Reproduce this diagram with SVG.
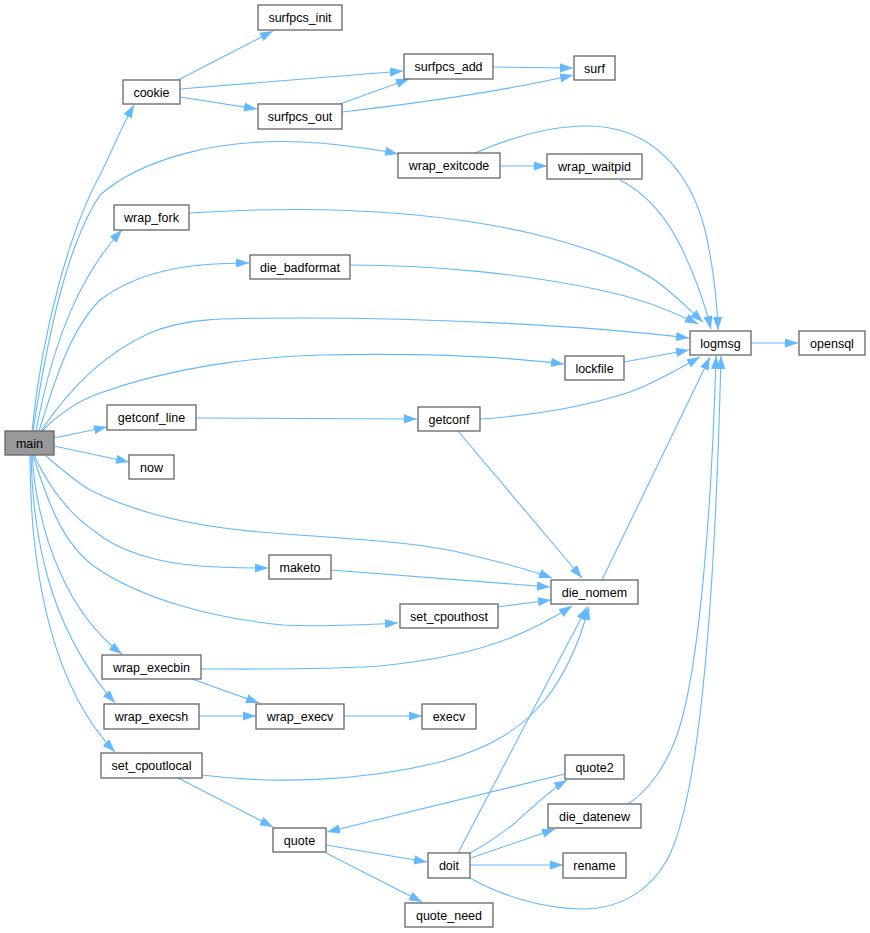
<svg xmlns="http://www.w3.org/2000/svg" width="870" height="933" viewBox="0 0 870 933">
<defs>
<marker id="ah" markerUnits="userSpaceOnUse" markerWidth="13" markerHeight="10" viewBox="0 0 13 10" refX="13" refY="5" orient="auto">
<path d="M0,0.4 L13,5 L0,9.6 z" fill="#63b8ff"/>
</marker>
<style>
.n rect{fill:#fff;stroke:#666;stroke-width:1.3}
.n text{font-family:"Liberation Sans",Arial,sans-serif;font-size:12.5px;fill:#000;text-anchor:middle}
#main rect{fill:#999}
#edges path{fill:none;stroke:#63b8ff;stroke-width:1.1;marker-end:url(#ah)}
</style>
</defs>
<rect width="870" height="933" fill="#fff"/>
<g id="edges">
<path d="M32,431 C42,330 70,230 100,175 C110,155 120,130 134,105"/>
<path d="M33,431 C50,320 70,240 100,195 C140,160 220,135 320,143 C350,146 375,149 398,154"/>
<path d="M36,431 C55,330 85,270 122,230"/>
<path d="M39,431 C55,380 70,330 100,300 C140,270 190,263 249,263"/>
<path d="M41,431 C65,395 100,355 150,333 C185,318 220,318 300,318 C430,318 580,325 689,338"/>
<path d="M42,431 C60,413 80,400 100,393 C170,368 250,357 320,355 C420,353 500,356 564,364"/>
<path d="M54,438 L107,427"/>
<path d="M54,446 L129,462"/>
<path d="M46,456 C60,468 75,481 90,490 C140,515 200,527 260,532 C330,538 420,541 470,555 C500,562 530,570 552,578"/>
<path d="M34,455 C50,490 70,515 97,533 C120,552 160,563 200,566 C225,568 245,568 268,568"/>
<path d="M33,455 C50,510 65,545 95,567 C140,598 210,618 283,625 C320,627 360,625 398,623"/>
<path d="M32,455 C38,540 70,615 122,654"/>
<path d="M31,455 C33,560 60,640 115,703"/>
<path d="M30,455 C30,580 55,690 115,752"/>
<path d="M178,80 L273,31"/>
<path d="M180,89 L403,71"/>
<path d="M180,97 L257,109"/>
<path d="M340,104 L409,79"/>
<path d="M342,112 C420,103 500,92 573,75"/>
<path d="M493,67 L573,68"/>
<path d="M500,166 L547,166"/>
<path d="M475,153 C510,138 550,125 590,126 C650,127 690,170 705,230 C713,265 717,300 718,330"/>
<path d="M620,180 C645,193 665,215 680,245 C695,275 705,305 711,329"/>
<path d="M189,213 C300,206 420,208 530,233 C600,250 645,270 665,288 C680,300 692,312 703,322"/>
<path d="M350,265 C440,265 530,275 600,290 C640,298 670,310 698,324"/>
<path d="M624,362 L689,350"/>
<path d="M751,343 L798,343"/>
<path d="M196,418 L417,419"/>
<path d="M480,419 C540,415 590,405 630,392 C655,383 680,368 700,357"/>
<path d="M458,431 L582,578"/>
<path d="M602,580 L710,357"/>
<path d="M628,804 C645,793 665,770 677,735 C700,670 712,500 716,356"/>
<path d="M470,878 C500,895 540,908 580,909 C620,910 650,890 667,860 C700,800 715,600 721,356"/>
<path d="M202,775 C270,784 360,782 440,762 C490,748 520,730 545,700 C565,675 580,640 589,607"/>
<path d="M458,853 L587,607"/>
<path d="M201,669 C260,669 320,670 380,666 C440,660 480,650 510,638 C535,628 555,617 572,606"/>
<path d="M192,679 L259,703"/>
<path d="M199,716 L256,716"/>
<path d="M344,716 L422,716"/>
<path d="M178,778 L273,827"/>
<path d="M565,774 L327,832"/>
<path d="M326,845 L427,862"/>
<path d="M326,853 L422,902"/>
<path d="M470,853 C485,845 500,835 515,823 C535,805 550,790 567,780"/>
<path d="M471,858 L555,829"/>
<path d="M470,865 L563,865"/>
<path d="M331,570 L550,587"/>
<path d="M497,607 L551,600"/>
</g>
<g id="main" class="n"><rect x="5" y="431" width="49" height="24"/><text x="29.5" y="447.5">main</text></g>
<g id="cookie" class="n"><rect x="123" y="80" width="57" height="24"/><text x="151.5" y="96.5">cookie</text></g>
<g id="surfpcs_init" class="n"><rect x="258" y="5" width="84" height="25"/><text x="300" y="22">surfpcs_init</text></g>
<g id="surfpcs_add" class="n"><rect x="404" y="54" width="89" height="25"/><text x="448.5" y="71">surfpcs_add</text></g>
<g id="surfpcs_out" class="n"><rect x="258" y="104" width="84" height="25"/><text x="300" y="121">surfpcs_out</text></g>
<g id="surf" class="n"><rect x="574" y="56" width="41" height="24"/><text x="594.5" y="72.5">surf</text></g>
<g id="wrap_exitcode" class="n"><rect x="398" y="153" width="102" height="25"/><text x="449" y="170">wrap_exitcode</text></g>
<g id="wrap_waitpid" class="n"><rect x="547" y="154" width="95" height="25"/><text x="594.5" y="171">wrap_waitpid</text></g>
<g id="wrap_fork" class="n"><rect x="114" y="205" width="75" height="25"/><text x="151.5" y="222">wrap_fork</text></g>
<g id="die_badformat" class="n"><rect x="250" y="255" width="100" height="24"/><text x="300" y="271.5">die_badformat</text></g>
<g id="logmsg" class="n"><rect x="690" y="331" width="61" height="24"/><text x="720.5" y="347.5">logmsg</text></g>
<g id="opensql" class="n"><rect x="799" y="331" width="66" height="24"/><text x="832" y="347.5">opensql</text></g>
<g id="lockfile" class="n"><rect x="565" y="356" width="59" height="24"/><text x="594.5" y="372.5">lockfile</text></g>
<g id="getconf_line" class="n"><rect x="107" y="405" width="89" height="25"/><text x="151.5" y="422">getconf_line</text></g>
<g id="getconf" class="n"><rect x="418" y="407" width="62" height="24"/><text x="449" y="423.5">getconf</text></g>
<g id="now" class="n"><rect x="129" y="455" width="45" height="24"/><text x="151.5" y="471.5">now</text></g>
<g id="maketo" class="n"><rect x="269" y="555" width="62" height="24"/><text x="300" y="571.5">maketo</text></g>
<g id="die_nomem" class="n"><rect x="551" y="580" width="87" height="24"/><text x="594.5" y="596.5">die_nomem</text></g>
<g id="set_cpouthost" class="n"><rect x="400" y="604" width="98" height="24"/><text x="449" y="620.5">set_cpouthost</text></g>
<g id="wrap_execbin" class="n"><rect x="102" y="655" width="99" height="24"/><text x="151.5" y="671.5">wrap_execbin</text></g>
<g id="wrap_execsh" class="n"><rect x="104" y="704" width="95" height="25"/><text x="151.5" y="721">wrap_execsh</text></g>
<g id="wrap_execv" class="n"><rect x="256" y="704" width="88" height="25"/><text x="300" y="721">wrap_execv</text></g>
<g id="execv" class="n"><rect x="422" y="704" width="54" height="25"/><text x="449" y="721">execv</text></g>
<g id="set_cpoutlocal" class="n"><rect x="101" y="753" width="101" height="25"/><text x="151.5" y="770">set_cpoutlocal</text></g>
<g id="quote2" class="n"><rect x="565" y="755" width="59" height="24"/><text x="594.5" y="771.5">quote2</text></g>
<g id="die_datenew" class="n"><rect x="548" y="804" width="93" height="24"/><text x="594.5" y="820.5">die_datenew</text></g>
<g id="quote" class="n"><rect x="273" y="828" width="53" height="24"/><text x="299.5" y="844.5">quote</text></g>
<g id="doit" class="n"><rect x="428" y="853" width="42" height="25"/><text x="449" y="870">doit</text></g>
<g id="rename" class="n"><rect x="563" y="853" width="63" height="25"/><text x="594.5" y="870">rename</text></g>
<g id="quote_need" class="n"><rect x="405" y="903" width="88" height="24"/><text x="449" y="919.5">quote_need</text></g>
</svg>
